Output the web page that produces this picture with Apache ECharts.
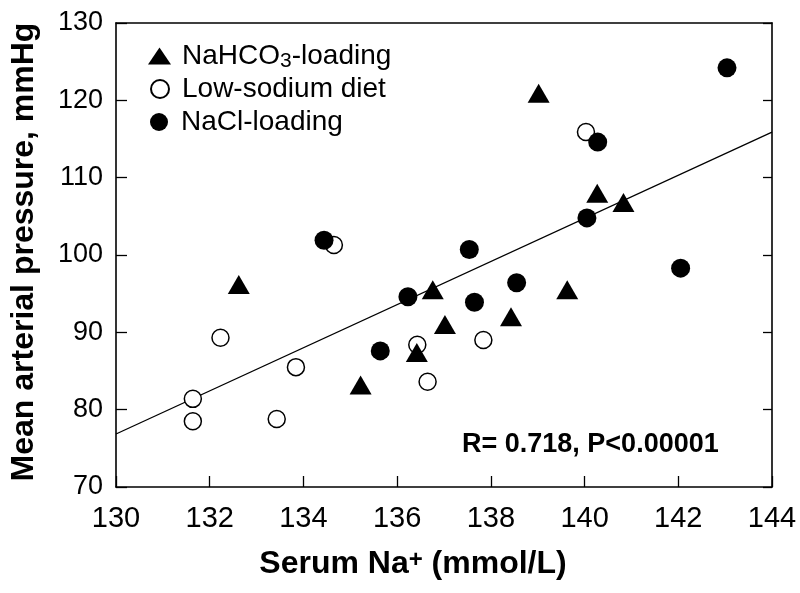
<!DOCTYPE html>
<html>
<head>
<meta charset="utf-8">
<script src="https://cdn.jsdelivr.net/npm/echarts@6/dist/echarts.min.js"></script>
<style>html,body{margin:0;padding:0;background:#fff}#c{width:800px;height:593px}</style>
</head>
<body>
<div id="c"></div>
<script>
// ---- data ----
const xTicks = [130, 132, 134, 136, 138, 140, 142, 144];
const yTicks = [70, 80, 90, 100, 110, 120, 130];

const seriesNames = ['NaHCO3-loading', 'Low-sodium diet', 'NaCl-loading'];

const nahco3X = [132.62, 139.02, 140.27, 140.83, 135.22, 136.76, 137.02, 136.42, 138.43, 139.63];
const nahco3Y = [96.2, 120.9, 108.0, 106.8, 83.2, 95.5, 91.0, 87.4, 92.0, 95.5];

const lowNaX = [131.64, 131.64, 132.23, 133.43, 133.84, 134.65, 136.43, 136.65, 137.84, 140.03];
const lowNaY = [81.4, 78.5, 89.3, 78.8, 85.5, 101.3, 88.4, 83.6, 89.0, 115.9];

const naclX = [134.44, 135.64, 136.23, 137.54, 137.65, 138.55, 140.05, 140.28, 142.05, 143.04];
const naclY = [101.9, 87.6, 94.6, 100.7, 93.9, 96.4, 104.8, 114.6, 98.3, 124.2];

const fitX = [130, 144];
const fitY = [76.85, 115.9];

const statText = 'R= 0.718, P<0.00001';
const xTitle = 'Serum Na+ (mmol/L)';
const yTitle = 'Mean arterial pressure, mmHg';

// ---- build ----
const FONT = "'Liberation Sans', Arial, Helvetica, sans-serif";
const zip = (xs, ys) => xs.map((x, i) => [x, ys[i]]);

const chart = echarts.init(document.getElementById('c'), null, {renderer: 'canvas'});

function legendTextStyle(pad) {
  return {
    fontFamily: FONT, fontSize: 28, color: '#000', lineHeight: 32, padding: [0, 0, 0, pad],
    rich: {
      a: {fontFamily: FONT, fontSize: 28, color: '#000', lineHeight: 32},
      sub: {fontFamily: FONT, fontSize: 21, color: '#000', lineHeight: 26, verticalAlign: 'bottom'}
    }
  };
}
function legendFmt(name) {
  if (name === seriesNames[0]) return '{a|NaHCO}{sub|3}{a|-loading}';
  return '{a|' + name + '}';
}

const option = {
  animation: false,
  backgroundColor: '#fff',
  grid: {left: 113, right: 28, top: 23, bottom: 106, containLabel: false},
  legend: [
    {data: [seriesNames[0]], left: 143, top: 35, orient: 'vertical', itemWidth: 23, itemHeight: 17,
     symbolKeepAspect: false, textStyle: legendTextStyle(6), formatter: legendFmt, selectedMode: false},
    {data: [seriesNames[1]], left: 145, top: 68, orient: 'vertical', itemWidth: 18, itemHeight: 18,
     textStyle: legendTextStyle(8), formatter: legendFmt, selectedMode: false},
    {data: [seriesNames[2]], left: 145, top: 101, orient: 'vertical', itemWidth: 18, itemHeight: 18,
     textStyle: legendTextStyle(8), formatter: legendFmt, selectedMode: false}
  ],
  xAxis: [
    {
      type: 'value', min: xTicks[0], max: xTicks[xTicks.length - 1], interval: xTicks[1] - xTicks[0],
      position: 'bottom',
      axisLine: {show: true, onZero: false, lineStyle: {color: '#000', width: 1.6}},
      axisTick: {show: true, inside: true, length: 11, lineStyle: {color: '#000', width: 1.3}},
      axisLabel: {show: true, margin: 17, color: '#000', fontFamily: FONT, fontSize: 29},
      splitLine: {show: false},
      name: xTitle.replace('Na+', 'Na{sup|+}'),
      nameLocation: 'middle', nameGap: 61,
      nameTextStyle: {
        fontFamily: FONT, fontSize: 32, fontWeight: 'bold', color: '#000', padding: [0, 62, 0, 0],
        rich: {sup: {fontFamily: FONT, fontSize: 24, fontWeight: 'bold', color: '#000', verticalAlign: 'top', lineHeight: 20}}
      }
    },
    {
      type: 'value', min: xTicks[0], max: xTicks[xTicks.length - 1], position: 'top',
      axisLine: {show: true, onZero: false, lineStyle: {color: '#000', width: 1.6}},
      axisTick: {show: false}, axisLabel: {show: false}, splitLine: {show: false}
    }
  ],
  yAxis: [
    {
      type: 'value', min: yTicks[0], max: yTicks[yTicks.length - 1], interval: yTicks[1] - yTicks[0],
      position: 'left',
      axisLine: {show: true, onZero: false, lineStyle: {color: '#000', width: 1.6}},
      axisTick: {show: true, inside: true, length: 11, lineStyle: {color: '#000', width: 1.3}},
      axisLabel: {show: true, margin: 13, color: '#000', fontFamily: FONT, fontSize: 27},
      splitLine: {show: false},
      name: yTitle, nameLocation: 'middle', nameGap: 76,
      nameTextStyle: {fontFamily: FONT, fontSize: 32, fontWeight: 'bold', color: '#000', padding: [0, 0, 0, 6]}
    },
    {
      type: 'value', min: yTicks[0], max: yTicks[yTicks.length - 1], interval: yTicks[1] - yTicks[0],
      position: 'right',
      axisLine: {show: true, onZero: false, lineStyle: {color: '#000', width: 1.6}},
      axisTick: {show: true, inside: true, length: 9, lineStyle: {color: '#000', width: 1.3}},
      axisLabel: {show: false}, splitLine: {show: false}
    }
  ],
  series: [
    {
      name: 'fit', type: 'line', data: zip(fitX, fitY), symbol: 'none', z: 1,
      lineStyle: {color: '#000', width: 1.3}, silent: true
    },
    {
      name: seriesNames[0], type: 'scatter', data: zip(nahco3X, nahco3Y), z: 4,
      symbol: 'triangle', symbolSize: [22, 19],
      itemStyle: {color: '#000', opacity: 1}
    },
    {
      name: seriesNames[1], type: 'scatter', data: zip(lowNaX, lowNaY), z: 2,
      symbol: 'circle', symbolSize: 17,
      itemStyle: {color: '#fff', borderColor: '#000', borderWidth: 1.5, opacity: 1}
    },
    {
      name: seriesNames[2], type: 'scatter', data: zip(naclX, naclY), z: 3,
      symbol: 'circle', symbolSize: 19,
      itemStyle: {color: '#000', opacity: 1}
    }
  ],
  graphic: [
    {
      type: 'text', left: 462, top: 431, silent: true,
      style: {text: statText, fontFamily: FONT, fontSize: 27, fontWeight: 'bold', fill: '#000'}
    }
  ]
};
chart.setOption(option);
</script>
</body>
</html>
